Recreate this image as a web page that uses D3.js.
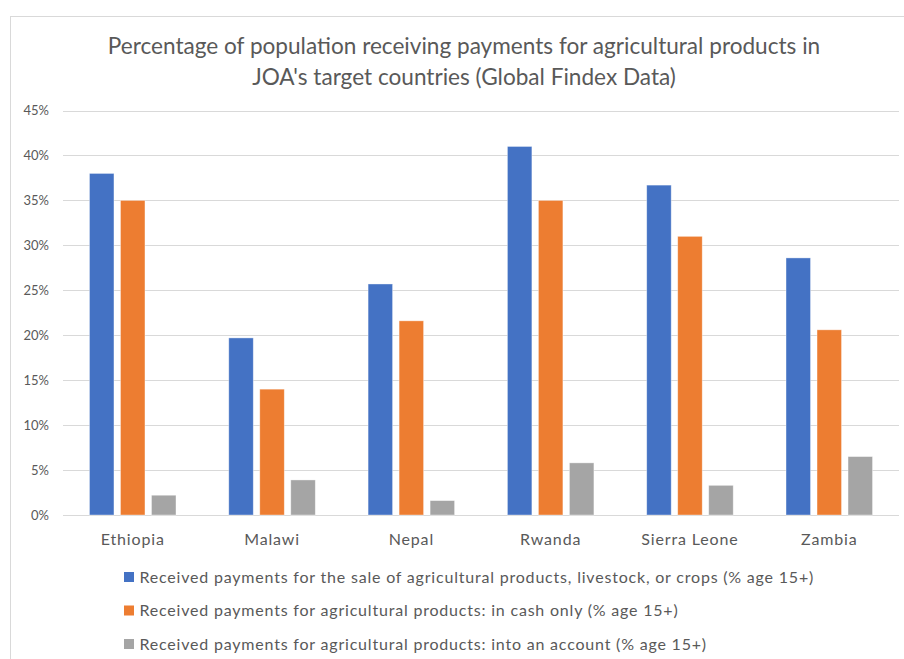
<!DOCTYPE html>
<html><head><meta charset="utf-8">
<script src="https://cdn.jsdelivr.net/npm/d3@7"></script>
<style>body{margin:0;background:#fff;} svg{display:block;font-family:Lato, "Open Sans", sans-serif;}</style>
</head><body>
<script>
const categories = ["Ethiopia","Malawi","Nepal","Rwanda","Sierra Leone","Zambia"];
const seriesNames = [
  "Received payments for the sale of agricultural products, livestock, or crops (% age 15+)",
  "Received payments for agricultural products: in cash only (% age 15+)",
  "Received payments for agricultural products: into an account (% age 15+)"
];
const saleValues = [38.0, 19.7, 25.7, 41.0, 36.7, 28.6];
const cashValues = [35.0, 14.0, 21.6, 35.0, 31.0, 20.6];
const accountValues = [2.2, 3.9, 1.6, 5.8, 3.3, 6.5];
const yTicks = [0,5,10,15,20,25,30,35,40,45];
const colors = ["#4472C4","#ED7D31","#A5A5A5"];
const titleLines = ["Percentage of population receiving payments for agricultural products in","JOA's target countries (Global Findex Data)"];

const W = 904, H = 659;
const svg = d3.select("body").append("svg").attr("width",W).attr("height",H);
svg.append("rect").attr("x",10.5).attr("y",16.5).attr("width",W+10).attr("height",H+10)
  .attr("fill","#fff").attr("stroke","#D9D9D9");

const series = [saleValues, cashValues, accountValues];
const plot = {left:63, right:899, top:110.5, bottom:515};
const x = d3.scaleBand().domain(categories).range([plot.left, plot.right]).paddingInner(0.379).paddingOuter(0.19);
const xs = d3.scaleBand().domain([0,1,2]).range([0, x.bandwidth()]).paddingInner(0.21).paddingOuter(0);
const y = d3.scaleLinear().domain([0,45]).range([plot.bottom, plot.top]);

// title
svg.append("g").selectAll("text").data(titleLines).join("text")
  .attr("x",464).attr("y",(d,i)=>54+i*31).attr("text-anchor","middle")
  .attr("font-size",22.6).attr("font-weight",400).attr("fill","#595959").text(d=>d);

// grid
svg.append("g").selectAll("line").data(yTicks).join("line")
  .attr("x1",plot.left).attr("x2",plot.right).attr("y1",d=>Math.round(y(d))+0.5).attr("y2",d=>Math.round(y(d))+0.5)
  .attr("stroke","#D9D9D9").attr("stroke-width",1);

// y axis
const yAxis = d3.axisLeft(y).tickValues(yTicks).tickFormat(d=>d+"%").tickSize(0).tickPadding(0);
const ya = svg.append("g").attr("transform",`translate(49,0)`).call(yAxis);
ya.select(".domain").remove();
ya.selectAll("text").attr("font-size",13).attr("fill","#595959").attr("font-family","Lato, sans-serif");

// bars
const g = svg.append("g");
categories.forEach((c,ci)=>{
  series.forEach((vals,si)=>{
    g.append("rect")
      .attr("x", x(c)+xs(si)).attr("width", xs.bandwidth())
      .attr("y", y(vals[ci])).attr("height", y(0)-y(vals[ci]))
      .attr("fill", colors[si]).attr("stroke","#fff").attr("stroke-opacity",0.5).attr("stroke-width",0.75);
  });
});

// x axis
const xAxis = d3.axisBottom(x).tickSize(0).tickPadding(0);
const xa = svg.append("g").attr("transform",`translate(0,${plot.bottom+30})`).call(xAxis);
xa.select(".domain").remove();
xa.selectAll("text").attr("font-size",16).attr("letter-spacing","0.85px").attr("fill","#595959").attr("font-family","Lato, sans-serif").attr("dy","0");

// legend
const lg = svg.append("g").selectAll("g").data(seriesNames).join("g")
  .attr("transform",(d,i)=>`translate(124,${577+i*33.5})`);
lg.append("rect").attr("x",0).attr("y",-5).attr("width",10).attr("height",10).attr("fill",(d,i)=>colors[i]);
lg.append("text").attr("x",15.5).attr("y",0).attr("dy","0.35em").attr("font-size",16).attr("letter-spacing","0.8px").attr("fill","#595959").text(d=>d);
</script>
</body></html>
